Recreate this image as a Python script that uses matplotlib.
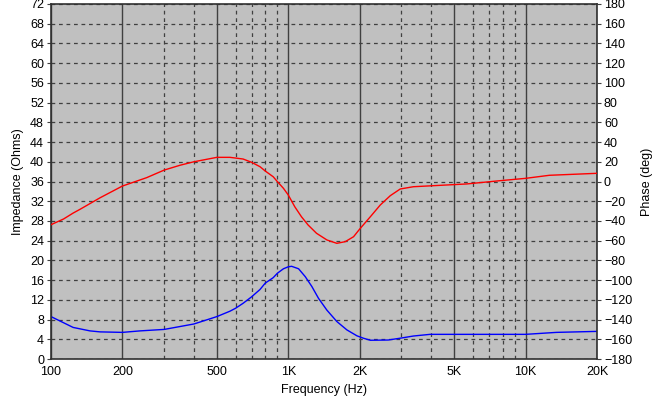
import matplotlib
matplotlib.use("Agg")
import matplotlib.pyplot as plt
from matplotlib.ticker import FixedLocator, NullFormatter

plt.rcParams['font.family'] = ['Liberation Sans', 'DejaVu Sans']

# impedance curve (blue, left axis)
imp_freq = [100, 124, 146, 161, 200, 237, 300, 400, 500, 568, 600, 645, 700, 760, 800,
            864, 900, 954, 1000, 1033, 1105, 1179, 1257, 1341, 1455, 1602, 1766, 1947,
            2078, 2218, 2637, 3000, 3367, 3960, 5000, 10000, 13500, 20000]
imp_ohms = [8.6, 6.4, 5.7, 5.5, 5.4, 5.7, 6.0, 7.1, 8.6, 9.7, 10.3, 11.3, 12.6, 14.1, 15.4,
            16.5, 17.4, 18.3, 18.7, 18.8, 18.3, 16.7, 14.7, 12.3, 9.9, 7.6, 5.9, 4.7,
            4.2, 3.8, 3.85, 4.26, 4.66, 5.0, 5.0, 5.0, 5.4, 5.6]

# phase curve (red, right axis)
ph_freq = [100, 113, 124, 133, 161, 200, 253, 300, 350, 400, 500, 568, 645, 700, 760,
           800, 864, 900, 954, 1000, 1065, 1136, 1212, 1315, 1455, 1602, 1738, 1884,
           2000, 2218, 2442, 2690, 2963, 3367, 4353, 5638, 7788, 10000, 12600, 20000]
ph_deg = [-43.8, -38.0, -32.0, -28.0, -16.5, -4.6, 3.9, 11.6, 16.5, 20.0, 24.5, 24.5,
          22.8, 19.5, 15.0, 10.6, 4.8, -0.2, -6.9, -13.7, -25.6, -35.7, -44.1, -52.5,
          -59.3, -62.7, -61.0, -56.0, -48.2, -35.7, -23.8, -14.4, -7.6, -5.3, -3.9,
          -2.5, 0.8, 3.2, 6.3, 8.3]

x_major = [100, 200, 500, 1000, 2000, 5000, 10000, 20000]
x_labels = ['100', '200', '500', '1K', '2K', '5K', '10K', '20K']
x_minor = [300, 400, 600, 700, 800, 900, 3000, 4000, 6000, 7000, 8000, 9000]
imp_ticks = list(range(0, 73, 4))
ph_ticks = list(range(-180, 181, 20))

W, H = 657, 398
fig = plt.figure(figsize=(W / 100, H / 100), dpi=100)
ax = fig.add_axes([51 / W, 39 / H, 546 / W, 355 / H])
ax.set_facecolor('#c0c0c0')
ax.set_xscale('log')
ax.set_xlim(100, 20000)
ax.set_ylim(0, 72)

ax.xaxis.set_major_locator(FixedLocator(x_major))
ax.set_xticklabels(x_labels)
ax.xaxis.set_minor_locator(FixedLocator(x_minor))
ax.xaxis.set_minor_formatter(NullFormatter())
ax.set_yticks(imp_ticks)

gc = '#404040'
ax.grid(True, which='major', axis='x', color=gc, lw=1.0, ls='-')
ax.grid(True, which='minor', axis='x', color=gc, lw=0.9, ls=(0, (3, 3)))
ax.grid(True, which='major', axis='y', color=gc, lw=0.9, ls=(0, (3, 3)))
ax.set_axisbelow(True)

ax.tick_params(axis='x', which='both', length=0, pad=5, labelsize=9)
ax.tick_params(axis='y', length=3, width=0.8, pad=2, labelsize=9, color=gc)

for s in ax.spines.values():
    s.set_color('#303030')
    s.set_linewidth(1.2)

ax2 = ax.twinx()
ax2.set_ylim(-180, 180)
ax2.set_yticks(ph_ticks)
ax2.tick_params(axis='y', length=3, width=0.8, pad=2, labelsize=9, color=gc)
for s in ax2.spines.values():
    s.set_visible(False)

ax.plot(imp_freq, imp_ohms, color='#0000ff', lw=1.0)
ax2.plot(ph_freq, ph_deg, color='#ff0000', lw=1.0)

ax.set_xlabel('Frequency (Hz)', fontsize=9, labelpad=4)
ax.set_ylabel('Impedance (Ohms)', fontsize=9, labelpad=4)
ax2.set_ylabel('Phase (deg)', fontsize=9, labelpad=6)

fig.savefig('out.png', dpi=100, facecolor='white')
